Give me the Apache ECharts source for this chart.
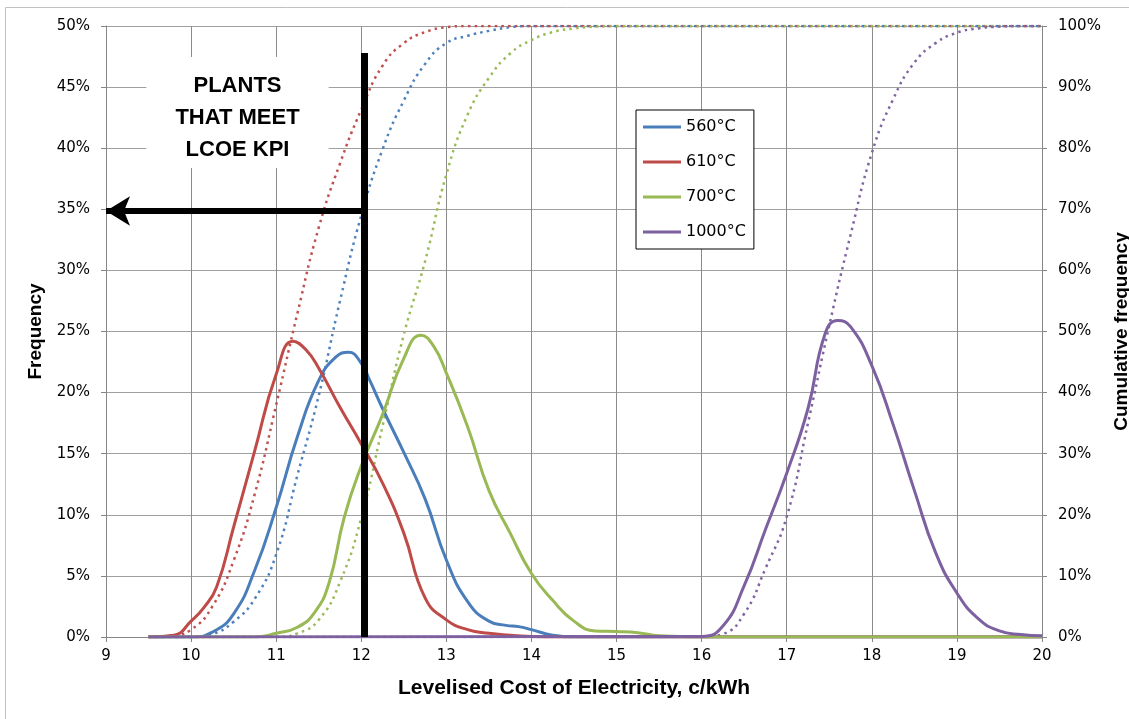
<!DOCTYPE html>
<html lang="en">
<head>
    <meta charset="UTF-8">
    <title>LCOE distribution</title>
    <style>
        body,html{
            margin: 0;
            height: 100%;
            width: 100%;
            background: #fff;
        }
    </style>
</head>
<body>

<div id="main" style="width:1129px; height:719px;"></div>
<script src="https://cdn.jsdelivr.net/npm/echarts@6/dist/echarts.min.js"></script>
<script>
    // frequency curves: levelised cost (c/kWh) and frequency (%)
    var x560 = [9.5, 10, 10.25, 10.5, 10.75, 11, 11.25, 11.5, 11.7, 11.85, 12, 12.1, 12.25, 12.5, 12.75, 13, 13.25, 13.5, 13.7, 13.85, 14, 14.25, 14.5, 20];
    var f560 = [0, 0, 0.4, 1.9, 5.5, 10.6, 16.4, 21, 22.9, 23.3, 22.4, 21, 18.7, 15.1, 11.3, 6.3, 2.9, 1.3, 0.95, 0.85, 0.6, 0.15, 0, 0];

    var x610 = [9.5, 9.8, 10, 10.15, 10.3, 10.5, 10.75, 11, 11.2, 11.35, 11.5, 11.75, 12, 12.25, 12.5, 12.75, 13, 13.25, 13.5, 13.75, 14, 14.25, 20];
    var f610 = [0, 0.15, 1.3, 2.4, 4.1, 9, 15.3, 21.5, 24.2, 23.5, 22, 18.8, 15.8, 12.6, 8.5, 3.2, 1.4, 0.6, 0.3, 0.15, 0.05, 0, 0];

    var x700 = [9.5, 10.75, 11, 11.25, 11.45, 11.62, 11.8, 12, 12.25, 12.5, 12.7, 12.85, 13, 13.25, 13.5, 13.75, 14, 14.25, 14.5, 14.75, 15, 15.25, 15.5, 15.75, 16, 20];
    var f700 = [0, 0, 0.3, 0.8, 2, 4.4, 9.8, 14, 18.2, 22.8, 24.7, 23.8, 21.6, 17.2, 12, 8.5, 5.2, 3, 1.3, 0.5, 0.45, 0.35, 0.1, 0.05, 0, 0];

    var x1000 = [9.5, 16, 16.25, 16.5, 16.75, 17, 17.25, 17.45, 17.6, 17.75, 18, 18.25, 18.5, 18.75, 19, 19.25, 19.5, 19.75, 20];
    var f1000 = [0, 0.05, 0.9, 4.2, 8.8, 13.4, 18.7, 24.8, 25.9, 25.4, 22.2, 17.4, 12, 6.9, 3.6, 1.5, 0.5, 0.2, 0.1];

    // cumulative frequency (%), on a common cost grid
    var lcoe = [9.5, 9.75, 10, 10.25, 10.5, 10.75, 11, 11.25, 11.5, 11.75, 12, 12.25, 12.5, 12.75, 13, 13.25, 13.5, 13.75, 14, 14.25, 14.5,
        14.75, 15, 15.25, 15.5, 15.75, 16, 16.25, 16.5, 16.75, 17, 17.25, 17.5, 17.75, 18, 18.25, 18.5, 18.75, 19, 19.25, 19.5, 19.75, 20];
    var cum560 = [0, 0, 0, 0.5, 2.5, 6.3, 13.5, 26.5, 39.5, 55, 69, 79.8, 87.8, 93.8, 97.2, 98.4, 99.2, 99.8, 100, 100, 100,
        100, 100, 100, 100, 100, 100, 100, 100, 100, 100, 100, 100, 100, 100, 100, 100, 100, 100, 100, 100, 100, 100];
    var cum610 = [0, 0.2, 1.2, 5, 12.5, 23.5, 38, 53, 67, 77.5, 86.3, 93.5, 97.2, 99, 99.8, 100, 100, 100, 100, 100, 100,
        100, 100, 100, 100, 100, 100, 100, 100, 100, 100, 100, 100, 100, 100, 100, 100, 100, 100, 100, 100, 100, 100];
    var cum700 = [0, 0, 0, 0, 0, 0, 0, 0.6, 2.8, 9, 19.5, 34.5, 49.5, 61.5, 75.7, 85.5, 91.5, 95.5, 97.7, 99, 99.6,
        99.9, 100, 100, 100, 100, 100, 100, 100, 100, 100, 100, 100, 100, 100, 100, 100, 100, 100, 100, 100, 100, 100];
    var cum1000 = [0, 0, 0, 0, 0, 0, 0, 0, 0, 0, 0, 0, 0, 0, 0, 0, 0, 0, 0, 0, 0,
        0, 0, 0, 0, 0, 0, 0.5, 3.8, 11.2, 19.7, 35, 51, 65.8, 79.2, 88, 94, 97.2, 98.9, 99.6, 99.9, 100, 100];

    var names = ['560°C', '610°C', '700°C', '1000°C'];
    var solidColors = ['#4A7EBB', '#BE4B48', '#98B954', '#7D60A0'];
    var dotColors = ['#4F81BD', '#C0504D', '#9BBB59', '#8064A2'];

    // the KPI marker: cost limit and share of plants
    var kpiCost = 12.035;
    var kpiTop = 47.8;
    var kpiShare = 34.86;

    function pairs(xs, ys) {
        return xs.map(function (x, i) {
            return [x, ys[i]];
        });
    }

    var freqs = [[x560, f560], [x610, f610], [x700, f700], [x1000, f1000]];
    var cums = [cum560, cum610, cum700, cum1000];

    var series = [];
    freqs.forEach(function (f, i) {
        series.push({
            name: names[i],
            type: 'line',
            smooth: true,
            showSymbol: false,
            yAxisIndex: 0,
            data: pairs(f[0], f[1]),
            lineStyle: {color: solidColors[i], width: 3},
            itemStyle: {color: solidColors[i]},
            z: 3
        });
    });
    cums.forEach(function (c, i) {
        series.push({
            name: names[i] + ' cumulative',
            type: 'line',
            smooth: true,
            showSymbol: false,
            yAxisIndex: 1,
            data: pairs(lcoe, c),
            lineStyle: {color: dotColors[i], width: 2.5, type: [2.5, 4.2]},
            itemStyle: {color: dotColors[i]},
            z: 2
        });
    });

    series[0].markLine = {
        silent: true,
        animation: false,
        symbol: ['none', 'none'],
        label: {show: false},
        lineStyle: {color: '#000', width: 7, type: 'solid'},
        data: [
            [{coord: [kpiCost, 0]}, {coord: [kpiCost, kpiTop]}],
            [{coord: [kpiCost, kpiShare], symbol: 'none'},
                {coord: [9, kpiShare], symbol: 'arrow', symbolSize: [22, 24], lineStyle: {width: 6}}]
        ]
    };

    var tickFont = 'DejaVu Sans';
    var titleFont = 'Liberation Sans';

    var myChart = echarts.init(document.getElementById('main'));
    myChart.setOption({
        backgroundColor: '#fff',
        animation: false,
        grid: {left: 106, right: 87, top: 26, bottom: 82, containLabel: false, outerBoundsMode: 'none'},
        legend: {
            data: names,
            orient: 'vertical',
            left: 636,
            top: 110,
            icon: 'rect',
            itemWidth: 38,
            itemHeight: 3,
            itemGap: 19,
            padding: [9, 8, 9, 7],
            borderColor: '#000',
            borderWidth: 1,
            backgroundColor: '#fff',
            textStyle: {fontFamily: tickFont, fontSize: 16, color: '#000'}
        },
        xAxis: {
            type: 'value',
            min: 9,
            max: 20,
            interval: 1,
            name: 'Levelised Cost of Electricity, c/kWh',
            nameLocation: 'middle',
            nameGap: 41,
            nameTextStyle: {fontFamily: titleFont, fontWeight: 'bold', fontSize: 21, color: '#000'},
            axisLine: {lineStyle: {color: '#868686'}},
            axisTick: {length: 5, lineStyle: {color: '#868686'}},
            axisLabel: {fontFamily: tickFont, fontSize: 15, color: '#000', margin: 12},
            splitLine: {show: true, lineStyle: {color: '#8c8c8c'}}
        },
        yAxis: [{
            type: 'value',
            min: 0,
            max: 50,
            interval: 5,
            name: 'Frequency',
            nameLocation: 'middle',
            nameGap: 58,
            nameTextStyle: {fontFamily: titleFont, fontWeight: 'bold', fontSize: 19, color: '#000'},
            axisLine: {show: true, lineStyle: {color: '#868686'}},
            axisTick: {show: true, length: 5, lineStyle: {color: '#868686'}},
            axisLabel: {formatter: '{value}%', fontFamily: tickFont, fontSize: 15, color: '#000', margin: 16},
            splitLine: {show: true, lineStyle: {color: '#a0a0a0'}}
        }, {
            type: 'value',
            min: 0,
            max: 100,
            interval: 10,
            name: 'Cumulative frequency',
            nameLocation: 'middle',
            nameGap: 67,
            nameTextStyle: {fontFamily: titleFont, fontWeight: 'bold', fontSize: 19, color: '#000'},
            axisLine: {show: true, lineStyle: {color: '#868686'}},
            axisTick: {show: true, length: 5, lineStyle: {color: '#868686'}},
            axisLabel: {formatter: '{value}%', fontFamily: tickFont, fontSize: 15, color: '#000', margin: 16},
            splitLine: {show: false}
        }],
        graphic: [{
            type: 'rect',
            silent: true,
            shape: {x: 5.5, y: 7.5, width: 1200, height: 800},
            style: {fill: 'none', stroke: '#c0c0c0', lineWidth: 1}
        }, {
            type: 'text',
            silent: true,
            z: 100,
            x: 237.5,
            y: 57,
            style: {
                text: 'PLANTS\nTHAT MEET\nLCOE KPI',
                font: 'bold 22px "Liberation Sans"',
                fill: '#000',
                align: 'center',
                verticalAlign: 'top',
                lineHeight: 32,
                backgroundColor: '#fff',
                padding: [13, 29, 2, 29]
            }
        }],
        series: series
    });
</script>
</body>
</html>
